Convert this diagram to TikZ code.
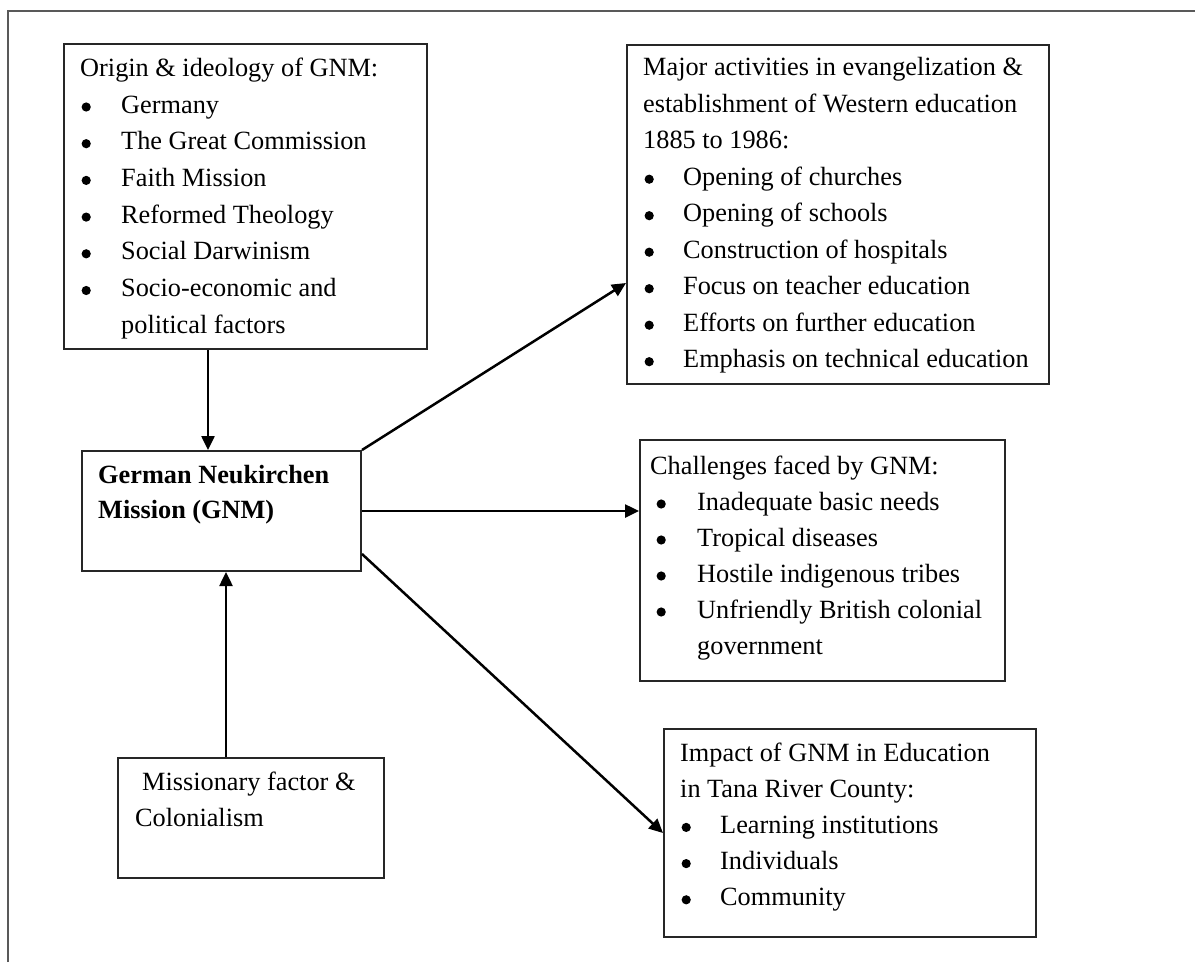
\documentclass[tikz,border=0pt]{standalone}
\usepackage{fontspec}
\setmainfont{Liberation Serif}
\usetikzlibrary{arrows.meta}
\newcommand\bdot{\tikz[baseline=0pt]\fill[black] (4.6pt,6pt) circle (4.6pt);}
\newcommand\bitem[3]{\makebox[#1][l]{\hspace{#2}\bdot}#3}
\begin{document}
\begin{tikzpicture}[x=1pt,y=-1pt,
  box/.style={draw=black!85,line width=2pt,rectangle,inner sep=0pt,anchor=north west},
  txt/.style={inner sep=0pt,anchor=base west,align=left},
  arr/.style={line width=2.5pt,-{Triangle[length=14pt,width=13pt]}},
  frame/.style={draw=black!65,line width=2pt}]
\useasboundingbox (0,0) rectangle (1195,962);
\draw[frame] (8,962) -- (8,11) -- (1195,11);

% boxes
\node[box,minimum width=363pt,minimum height=305pt] (origin) at (63,43) {};
\node[box,minimum width=422pt,minimum height=339pt] (major) at (626,44) {};
\node[box,minimum width=279pt,minimum height=120pt] (gnm) at (81,450) {};
\node[box,minimum width=365pt,minimum height=241pt] (chal) at (639,439) {};
\node[box,minimum width=266pt,minimum height=120pt] (miss) at (117,757) {};
\node[box,minimum width=372pt,minimum height=208pt] (impact) at (663,728) {};

% texts
\node[txt,font=\fontsize{26.3}{36.7}\selectfont] (origintxt) at (80,76.3) {\begin{tabular}[t]{@{}l@{}}
Origin \& ideology of GNM:\\
\bitem{41pt}{1.4pt}{Germany}\\
\bitem{41pt}{1.4pt}{The Great Commission}\\
\bitem{41pt}{1.4pt}{Faith Mission}\\
\bitem{41pt}{1.4pt}{Reformed Theology}\\
\bitem{41pt}{1.4pt}{Social Darwinism}\\
\bitem{41pt}{1.4pt}{Socio-economic and}\\
\hspace{41pt}political factors
\end{tabular}};

\node[txt,font=\fontsize{26.3}{36.5}\selectfont] (majortxt) at (643,75.7) {\begin{tabular}[t]{@{}l@{}}
Major activities in evangelization \&\\
establishment of Western education\\
1885 to 1986:\\
\bitem{40pt}{1.4pt}{Opening of churches}\\
\bitem{40pt}{1.4pt}{Opening of schools}\\
\bitem{40pt}{1.4pt}{Construction of hospitals}\\
\bitem{40pt}{1.4pt}{Focus on teacher education}\\
\bitem{40pt}{1.4pt}{Efforts on further education}\\
\bitem{40pt}{1.4pt}{Emphasis on technical education}
\end{tabular}};

\node[txt,font=\fontsize{26.3}{35}\selectfont\bfseries] (gnmtxt) at (98,483.3) {\begin{tabular}[t]{@{}l@{}}
German Neukirchen\\
Mission (GNM)
\end{tabular}};

\node[txt,font=\fontsize{26.3}{36}\selectfont] (chaltxt) at (650,474) {\begin{tabular}[t]{@{}l@{}}
Challenges faced by GNM:\\
\bitem{47pt}{6.4pt}{Inadequate basic needs}\\
\bitem{47pt}{6.4pt}{Tropical diseases}\\
\bitem{47pt}{6.4pt}{Hostile indigenous tribes}\\
\bitem{47pt}{6.4pt}{Unfriendly British colonial}\\
\hspace{47pt}government
\end{tabular}};

\node[txt,font=\fontsize{26.3}{36}\selectfont] (misstxt) at (135,790) {\begin{tabular}[t]{@{}l@{}}
\hspace{7pt}Missionary factor \&\\
Colonialism
\end{tabular}};

\node[txt,font=\fontsize{26.3}{36.2}\selectfont] (impacttxt) at (680,761) {\begin{tabular}[t]{@{}l@{}}
Impact of GNM in Education\\
in Tana River County:\\
\bitem{40pt}{1.4pt}{Learning institutions}\\
\bitem{40pt}{1.4pt}{Individuals}\\
\bitem{40pt}{1.4pt}{Community}
\end{tabular}};

% connectors
\draw[arr] ([xshift=-37.5pt]origin.south) -- ([xshift=-13.5pt]gnm.north);
\draw[arr] ([xshift=-25pt]miss.north) -- ([xshift=4.5pt]gnm.south);
\draw[arr] (gnm.north east) -- ([yshift=-68.5pt]major.west);
\draw[arr] (gnm.east) -- (gnm.east -| chal.west);
\draw[arr] ([yshift=-43pt]gnm.east) -- (impact.west);
\end{tikzpicture}
\end{document}
